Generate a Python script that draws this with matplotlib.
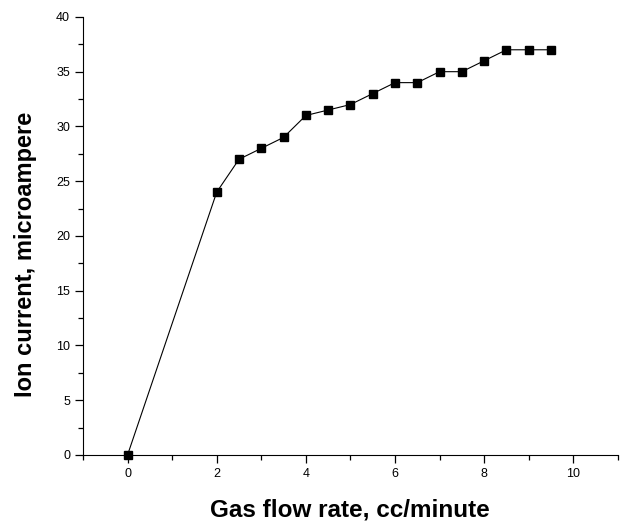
import matplotlib
matplotlib.use("Agg")
import matplotlib.pyplot as plt
from matplotlib.ticker import MultipleLocator

flow = [0, 2, 2.5, 3, 3.5, 4, 4.5, 5, 5.5, 6, 6.5, 7, 7.5, 8, 8.5, 9, 9.5]
current = [0, 24, 27, 28, 29, 31, 31.5, 32, 33, 34, 34, 35, 35, 36, 37, 37, 37]

fig = plt.figure(figsize=(6.22, 5.24), dpi=100)
ax = fig.add_axes([0.1334, 0.1317, 0.860, 0.836])
ax.plot(flow, current, color="black", lw=0.8, marker="s", markersize=6,
        markerfacecolor="black", markeredgecolor="black", clip_on=False)
ax.set_xlim(-1, 11)
ax.set_ylim(0, 40)
ax.xaxis.set_major_locator(MultipleLocator(2))
ax.xaxis.set_minor_locator(MultipleLocator(1))
ax.yaxis.set_major_locator(MultipleLocator(5))
ax.yaxis.set_minor_locator(MultipleLocator(2.5))
for s in ("top", "right"):
    ax.spines[s].set_visible(False)
ax.tick_params(which="both", direction="out", labelsize=9, width=0.9)
ax.tick_params(which="major", length=5.8)
ax.tick_params(which="minor", length=3.6)
ax.set_xlabel("Gas flow rate, cc/minute", fontsize=17.5, fontweight="bold",
              family="Liberation Sans")
ax.set_ylabel("Ion current, microampere", fontsize=17, fontweight="bold",
              family="Liberation Sans")
ax.xaxis.label.set_va("baseline")
ax.xaxis.set_label_coords(0.499, -0.141)
ax.yaxis.label.set_va("center")
ax.yaxis.set_label_coords(-0.108, 0.459)
for lbl in ax.get_xticklabels() + ax.get_yticklabels():
    lbl.set_family("Liberation Sans")
fig.savefig("out.png", dpi=100)
